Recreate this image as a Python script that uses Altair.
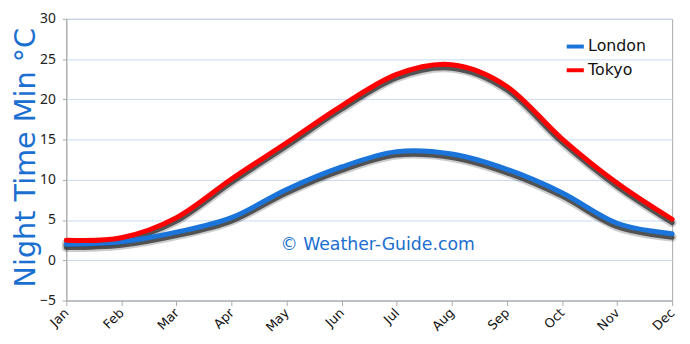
import altair as alt
import pandas as pd

months = ["Jan", "Feb", "Mar", "Apr", "May", "Jun", "Jul", "Aug", "Sep", "Oct", "Nov", "Dec"]
london = [2.0, 2.3, 3.5, 5.3, 8.8, 11.6, 13.5, 13.2, 11.3, 8.4, 4.6, 3.3]
tokyo = [2.5, 2.8, 5.3, 10.1, 14.6, 19.2, 23.1, 24.3, 21.6, 15.1, 9.6, 5.1]
series = ["London", "Tokyo"]
colors = ["#1a74d9", "#ff0000"]
y_ticks = [-5, 0, 5, 10, 15, 20, 25, 30]

rows = []
for name, vals in zip(series, [london, tokyo]):
    for i, (m, v) in enumerate(zip(months, vals)):
        rows.append({"month": m, "temp": v, "city": name, "order": i})
df = pd.DataFrame(rows)

FONT = "Comic Sans MS, DejaVu Sans"

x_enc = alt.X("month:N", sort=months,
              scale=alt.Scale(type="point", padding=0),
              axis=alt.Axis(title=None, labelAngle=-45, labelAlign="right",
                            labelBaseline="middle", labelFont=FONT, labelFontSize=13,
                            labelColor="#111", labelPadding=5, tickSize=5,
                            tickColor="#aaa", domainColor="#aaa", grid=False))
y_enc = alt.Y("temp:Q", scale=alt.Scale(domain=[-5, 30], nice=False, zero=False),
              axis=alt.Axis(title="Night Time Min °C", values=y_ticks,
                            titleFont=FONT, titleFontSize=29, titleFontWeight="normal",
                            titleColor="#1a6fd0", titleAngle=270, titleX=-41, titleY=140,
                            titleAlign="center", titleBaseline="middle",
                            labelFont="Noto Sans", labelFontSize=14, labelColor="#222",
                            labelPadding=7, tickSize=4, tickColor="#aaa",
                            domainColor="#aaa", gridColor="#c6d9f0", gridWidth=1))

base = alt.Chart(df)

shadow_wide = base.mark_line(interpolate="cardinal", strokeWidth=9, color="#000",
                             opacity=0.2, yOffset=3.5, strokeCap="round").encode(
    x=x_enc, y=y_enc, detail="city:N", order="order:Q")
shadow = base.mark_line(interpolate="cardinal", strokeWidth=5, color="#333",
                        opacity=0.8, yOffset=3.5, strokeCap="round").encode(
    x=x_enc, y=y_enc, detail="city:N", order="order:Q")
lines = base.mark_line(interpolate="cardinal", strokeWidth=5, strokeCap="round").encode(
    x=x_enc, y=y_enc, order="order:Q",
    color=alt.Color("city:N", sort=series,
                    scale=alt.Scale(domain=series, range=colors),
                    legend=alt.Legend(title=None, orient="none", legendX=504, legendY=17,
                                      symbolType="stroke", symbolStrokeWidth=4,
                                      symbolSize=300, labelFont=FONT, labelFontSize=16,
                                      labelColor="#111", labelOffset=2, rowPadding=5)))

wm = alt.Chart(pd.DataFrame({"t": ["© Weather-Guide.com"]})).mark_text(
    font=FONT, fontSize=17.5, color="#1a6fd0", align="center", baseline="middle").encode(
    text="t:N", x=alt.value(315), y=alt.value(229))

chart = alt.layer(shadow_wide, shadow, lines, wm).properties(
    width=613, height=285, autosize="none",
    padding={"left": 59, "top": 9, "right": 10, "bottom": 42},
).configure_view(stroke="#aaa", strokeWidth=1)

chart.save("out.html", embed_options={"renderer": "svg", "actions": False})
